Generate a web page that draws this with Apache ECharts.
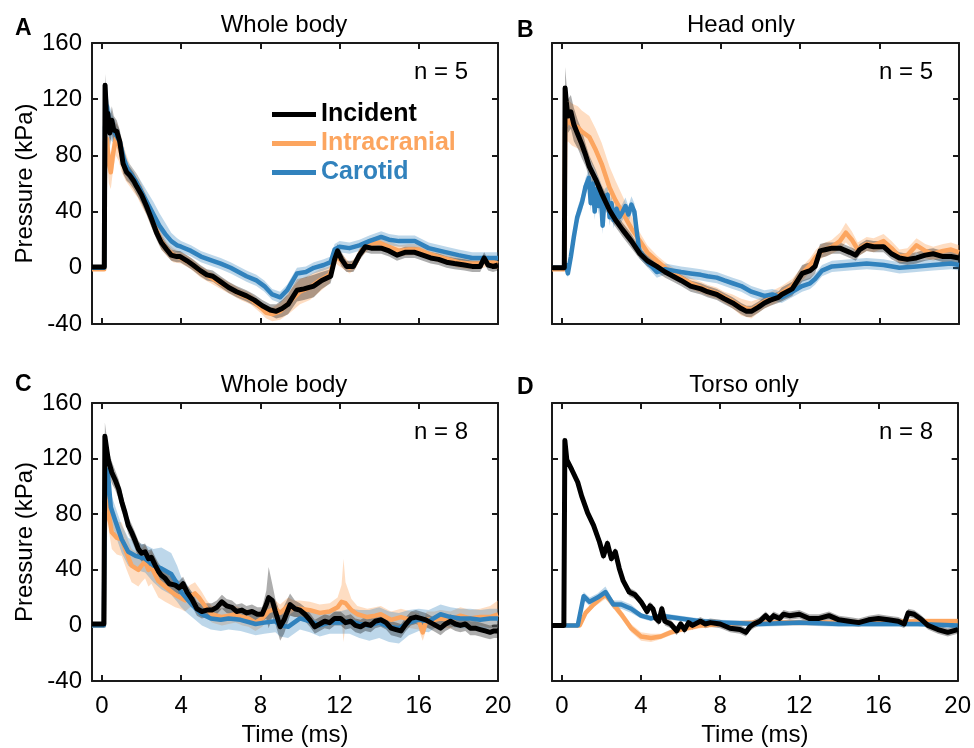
<!DOCTYPE html>
<html><head><meta charset="utf-8">
<script src="https://cdn.jsdelivr.net/npm/echarts@6/dist/echarts.min.js"></script>
<style>html,body{margin:0;padding:0;background:#fff}#c{width:974px;height:748px}</style>
</head><body><div id="c"></div><script>
// ---- DATA: each entry is [time (ms), mean pressure (kPa), SD (kPa)] ----
const xTicks = [0, 4, 8, 12, 16, 20];
const yTicks = [-40, 0, 40, 80, 120, 160];
const seriesNames = ['Incident', 'Intracranial', 'Carotid'];
const panelTitles = ['Whole body', 'Head only', 'Whole body', 'Torso only'];
const panelLetters = ['A', 'B', 'C', 'D'];
const panelN = ['n = 5', 'n = 5', 'n = 8', 'n = 8'];

const A_incident = [[-0.5,0.5,1],[0.12,0.5,1],[0.16,130,8],[0.2,118,12],[0.25,100,12],[0.3,110,12],[0.4,96,10],[0.5,105,10],[0.6,98,10],[0.75,97,8],[0.9,90,8],[1.07,74,7],[1.25,68,6],[1.4,66,6],[1.6,62,6],[1.75,58,6],[2.0,52,6],[2.25,44,6],[2.5,35,6],[2.76,25,5],[3.0,18,5],[3.27,13,4],[3.5,9,4],[3.78,8,4],[3.95,8,4],[4.3,5,4],[4.6,2,4],[4.97,-2,4],[5.3,-5,4],[5.6,-6,4],[6.0,-10,4],[6.4,-14,4],[6.8,-17,4],[7.3,-20,4],[7.7,-23,4],[8.1,-27,4],[8.5,-30,4],[8.8,-31,5],[9.1,-29,6],[9.4,-26,7],[9.85,-16,8],[10.2,-15,8],[10.7,-13,8],[11.1,-9,6],[11.55,-6,5],[11.75,6,5],[11.9,12,5],[12.1,6,5],[12.35,1,4],[12.7,1,4],[13.0,9,4],[13.3,15,4],[13.6,14,4],[14.1,14,4],[14.5,12,4],[14.9,9,4],[15.3,11,4],[15.8,11,4],[16.2,9,4],[16.6,7,4],[17.0,6,4],[17.4,4,4],[17.8,3,4],[18.3,2,4],[18.7,1,4],[19.1,1,4],[19.3,7,4],[19.5,2,4],[19.75,1,4],[20,2,4]];
const A_intracranial = [[-0.5,-1,1],[0.12,-1,1],[0.16,90,10],[0.25,92,15],[0.35,75,15],[0.45,68,12],[0.55,80,12],[0.7,92,12],[0.85,88,12],[1.0,80,12],[1.2,72,10],[1.4,66,8],[1.6,62,8],[1.8,58,8],[2.0,52,8],[2.25,45,7],[2.5,36,7],[2.75,27,6],[3.0,19,6],[3.3,13,5],[3.6,9,5],[4.0,7,4],[4.5,3,4],[5.0,-3,4],[5.5,-7,4],[6.0,-11,4],[6.5,-15,4],[7.0,-19,4],[7.5,-22,4],[8.0,-28,4],[8.3,-32,4],[8.6,-33,5],[9.0,-31,6],[9.5,-24,8],[10.0,-17,9],[10.5,-14,9],[11.0,-9,8],[11.5,-5,6],[11.8,8,5],[12.1,5,5],[12.5,0,4],[12.8,3,4],[13.1,12,4],[13.5,17,4],[14.0,18,4],[14.5,15,4],[15.0,12,4],[15.5,13,4],[16.0,13,4],[16.5,10,4],[17.0,8,4],[17.5,6,4],[18.0,4,4],[18.5,3,4],[19.0,3,4],[19.5,5,4],[20.0,3,4]];
const A_carotid = [[-0.5,0,1],[0.12,0,1],[0.16,100,12],[0.25,115,15],[0.35,105,12],[0.5,100,10],[0.7,95,8],[0.9,90,8],[1.1,78,7],[1.3,70,6],[1.5,66,6],[1.7,62,6],[2.0,54,7],[2.3,46,8],[2.6,38,9],[2.9,30,9],[3.2,24,8],[3.5,19,6],[3.8,16,5],[4.0,15,4],[4.5,12,4],[5.0,8,4],[5.6,5,4],[6.0,3,4],[6.5,0,4],[7.3,-6,4],[7.8,-9,4],[8.2,-13,4],[8.6,-19,4],[9.0,-21,4],[9.35,-16,4],[9.85,-4,4],[10.3,-3,4],[10.7,0,4],[11.2,2,4],[11.55,4,4],[11.75,13,4],[12.0,15,4],[12.5,14,4],[13.0,16,4],[13.5,19,4],[14.1,22,4],[14.5,20,4],[15.0,19,4],[15.8,19,4],[16.5,14,4],[17.4,11,4],[18.0,9,4],[18.7,7,4],[19.3,7,4],[20,7,4]];

const B_incident = [[-0.5,0,1],[0.12,0,1],[0.16,128,15],[0.22,118,15],[0.3,108,12],[0.45,111,12],[0.6,102,12],[0.8,95,10],[1.0,88,10],[1.2,80,8],[1.38,72,8],[1.7,63,7],[2.0,53,6],[2.4,41,6],[2.7,34,5],[3.06,27,5],[3.5,19,5],[3.93,10,4],[4.3,5,4],[4.78,1,4],[5.2,-3,4],[5.6,-6,4],[6.0,-9,4],[6.48,-13,4],[7.0,-15,4],[7.33,-17,4],[7.8,-19,4],[8.18,-22,4],[8.6,-25,4],[9.03,-29,4],[9.3,-31,4],[9.54,-31,4],[9.9,-28,4],[10.2,-25,4],[10.5,-23,4],[10.9,-21,4],[11.07,-19,5],[11.6,-15,5],[12.1,-4,6],[12.5,-2,6],[12.75,1,5],[13.0,12,5],[13.3,13,5],[13.6,14,4],[14.0,14,4],[14.5,11,4],[14.8,9,4],[15.0,13,4],[15.35,16,4],[15.7,15,4],[16.2,15,4],[16.6,10,4],[17.0,7,4],[17.4,6,4],[17.86,7,4],[18.3,9,4],[18.7,10,4],[19.2,8,4],[19.6,8,4],[20,7,4]];
const B_intracranial = [[-0.5,-1,1],[0.12,-1,1],[0.16,100,12],[0.3,105,15],[0.5,102,15],[0.8,100,15],[1.0,97,15],[1.38,93,15],[1.7,84,15],[2.0,74,15],[2.4,57,15],[2.7,48,14],[3.06,39,12],[3.5,28,9],[3.93,19,6],[4.3,11,5],[4.78,5,4],[5.2,0,4],[5.6,-4,4],[6.0,-7,4],[6.48,-11,4],[7.0,-14,4],[7.33,-16,4],[7.8,-18,4],[8.18,-21,4],[8.6,-24,5],[9.03,-28,6],[9.54,-30,6],[9.9,-27,5],[10.2,-24,5],[10.5,-22,5],[11.07,-18,5],[11.6,-13,5],[12.1,-4,5],[12.5,2,5],[12.8,8,5],[13.1,12,5],[13.6,15,5],[14.0,19,6],[14.3,25,7],[14.6,20,6],[14.9,13,5],[15.35,17,5],[15.7,16,5],[16.2,19,5],[16.6,14,5],[17.0,8,5],[17.4,9,5],[17.86,16,5],[18.3,12,5],[18.7,10,5],[19.2,12,5],[19.6,13,5],[20,11,5]];
const B_carotid = [[-0.5,0,1],[0.12,0,1],[0.2,2,3],[0.3,-4,3],[0.45,8,5],[0.6,22,6],[0.77,36,6],[1.02,47,6],[1.19,58,6],[1.36,64,6],[1.45,46,6],[1.55,60,6],[1.65,40,6],[1.75,56,6],[1.85,44,6],[1.95,54,6],[2.05,30,6],[2.15,50,6],[2.3,52,6],[2.4,36,6],[2.5,46,6],[2.6,34,6],[2.75,42,6],[2.9,36,6],[3.06,40,6],[3.2,44,6],[3.35,38,6],[3.5,45,6],[3.65,40,6],[3.75,28,6],[3.9,12,5],[4.2,6,4],[4.78,-3,4],[5.2,-1,4],[5.6,-2,4],[6.0,-3,4],[6.48,-4,4],[7.0,-5,4],[7.33,-6,4],[7.8,-7,4],[8.18,-9,4],[8.6,-11,4],[9.03,-13,4],[9.54,-17,4],[10.2,-20,4],[10.6,-19,4],[11.07,-21,4],[11.6,-17,4],[12.1,-13,4],[12.5,-11,4],[12.75,-8,4],[13.1,-2,4],[13.6,1,4],[14.5,2,4],[15.35,3,4],[16.2,2,4],[17.0,0,4],[17.86,1,4],[18.7,2,4],[19.6,3,4],[20,2,4]];

const C_incident = [[-0.5,1,1],[0.1,1,1],[0.15,136,10],[0.32,119,8],[0.5,110,8],[0.66,105,7],[0.85,98,7],[1.0,89,7],[1.15,82,6],[1.33,72,6],[1.5,67,6],[1.65,62,6],[1.84,55,6],[2.0,52,6],[2.18,53,6],[2.35,48,6],[2.5,49,6],[2.7,43,6],[2.85,39,6],[3.0,36,6],[3.19,34,6],[3.4,30,6],[3.7,29,5],[3.9,27,5],[4.1,30,5],[4.3,24,5],[4.54,19,5],[4.8,12,5],[5.05,10,5],[5.3,11,5],[5.55,11,5],[5.8,13,5],[6.06,17,5],[6.3,14,5],[6.57,13,5],[6.8,10,5],[7.07,11,5],[7.3,9,5],[7.58,10,5],[7.85,8,5],[8.09,8,5],[8.3,15,10],[8.42,20,22],[8.6,18,12],[8.76,10,9],[9.0,-1,10],[9.2,4,10],[9.5,15,8],[9.75,12,6],[10.0,11,5],[10.25,8,5],[10.5,4,5],[10.75,-1,5],[11.0,1,5],[11.25,3,5],[11.5,2,5],[11.75,5,5],[12.05,5,5],[12.3,2,5],[12.56,3,5],[12.8,0,5],[13.06,-1,5],[13.3,1,5],[13.57,0,5],[13.8,3,5],[14.08,4,5],[14.35,2,5],[14.6,-2,5],[14.85,-3,5],[15.1,-4,5],[15.35,1,5],[15.6,5,5],[15.85,6,5],[16.1,5,5],[16.35,4,5],[16.6,2,5],[16.85,0,5],[17.1,-2,5],[17.35,1,5],[17.6,3,5],[17.85,1,5],[18.1,0,5],[18.35,1,5],[18.6,-2,5],[18.85,-2,5],[19.1,-3,5],[19.35,-4,5],[19.6,-5,5],[19.8,-4,5],[20,-4,5]];
const C_intracranial = [[-0.5,0,1],[0.1,0,1],[0.15,70,10],[0.24,98,10],[0.35,80,12],[0.5,67,12],[0.75,63,12],[1.0,62,12],[1.25,52,12],[1.5,43,12],[1.84,40,12],[2.0,43,12],[2.18,46,12],[2.35,40,12],[2.5,42,12],[2.85,32,12],[3.19,28,11],[3.45,25,10],[3.7,22,9],[3.95,20,8],[4.2,18,8],[4.45,21,8],[4.7,23,8],[4.9,20,7],[5.05,17,7],[5.3,12,6],[5.55,8,6],[5.8,7,6],[6.06,6,6],[6.4,7,6],[6.74,8,6],[7.1,6,6],[7.4,5,6],[7.75,2,6],[8.09,5,6],[8.4,10,6],[8.76,12,6],[9.0,9,6],[9.4,14,6],[9.7,12,6],[10.0,12,6],[10.5,11,6],[11.0,9,6],[11.5,10,6],[11.9,13,7],[12.1,17,12],[12.2,18,30],[12.3,16,15],[12.6,11,8],[12.9,8,6],[13.4,6,6],[13.8,7,6],[14.08,8,6],[14.6,4,6],[15.1,6,6],[15.6,4,6],[16.0,3,6],[16.2,-5,6],[16.4,4,6],[16.8,4,6],[17.1,5,6],[17.6,4,6],[18.1,7,6],[18.6,5,6],[19.1,6,6],[19.6,6,8],[20,8,10]];
const C_carotid = [[-0.5,0,1],[0.1,0,1],[0.15,90,10],[0.25,112,10],[0.32,107,10],[0.45,85,10],[0.66,76,10],[1.0,62,10],[1.33,53,10],[1.7,50,10],[2.18,48,10],[2.6,43,12],[3.0,41,15],[3.5,37,15],[3.8,30,13],[4.0,24,11],[4.3,19,10],[4.54,15,9],[5.05,8,8],[5.5,5,8],[6.0,4,8],[6.4,5,8],[7.0,4,8],[7.76,1,8],[8.2,2,8],[8.76,3,8],[9.0,0,8],[9.4,-1,8],[10.0,5,8],[10.5,3,8],[11.0,0,8],[11.5,2,8],[12.0,2,8],[12.5,3,9],[13.0,1,10],[13.5,0,11],[14.0,2,11],[14.5,-1,11],[15.0,-2,11],[15.5,2,9],[16.0,4,8],[16.5,3,8],[17.1,8,7],[17.6,6,7],[18.1,5,7],[18.6,5,7],[19.1,4,7],[19.6,5,7],[20,5,7]];

const D_incident = [[-0.5,0,1],[0.1,0,1],[0.15,133,3],[0.25,119,3],[0.5,112,3],[0.8,103,3],[1.0,93,3],[1.3,81,3],[1.6,72,3],[1.9,60,3],[2.1,50,3],[2.3,59,3],[2.5,48,3],[2.7,53,3],[2.9,41,3],[3.1,32,3],[3.4,24,3],[3.7,22,3],[4.0,17,3],[4.3,10,3],[4.45,14,3],[4.6,12,3],[4.75,5,3],[4.9,3,3],[5.05,12,3],[5.2,3,3],[5.5,1,3],[5.8,-4,3],[6.0,1,3],[6.2,-3,3],[6.4,2,3],[6.6,0,3],[7.0,3,3],[7.25,1,3],[7.5,2,3],[8.0,1,3],[8.5,-2,3],[9.0,-3,3],[9.3,-5,3],[9.5,-1,3],[9.7,1,3],[10.0,3,3],[10.3,7,3],[10.5,4,3],[10.7,7,3],[11.0,5,3],[11.2,8,3],[11.5,7,3],[12.0,8,3],[12.5,5,3],[13.0,5,3],[13.5,7,3],[14.0,4,3],[14.5,3,3],[15.0,2,3],[15.5,4,3],[16.0,5,3],[16.5,4,3],[17.0,3,3],[17.3,1,3],[17.5,9,3],[17.8,8,3],[18.1,5,3],[18.5,0,3],[19.0,-3,3],[19.5,-5,3],[20,-3,3]];
const D_intracranial = [[-0.5,0,1],[0.9,0,1],[1.2,9,2],[1.6,15,2],[2.0,20,3],[2.2,22,3],[2.5,17,3],[3.0,8,3],[3.5,-2,3],[4.0,-8,3],[4.5,-9,3],[5.0,-8,2],[5.5,-5,2],[6.0,-3,2],[7.0,0,2],[8.0,1,2],[10.0,2,2],[12.0,2,2],[14.0,2,2],[16.0,2,2],[18.0,3,2],[20,3,2]];
const D_carotid = [[-0.5,0,1],[0.8,0,1],[1.1,21,3],[1.4,17,3],[1.8,20,3],[2.2,24,4],[2.6,15,3],[3.0,15,3],[3.5,12,3],[4.0,7,2],[4.5,5,2],[5.0,7,2],[6.0,5,2],[7.0,3,2],[8.0,2,2],[10.0,1,2],[12.0,2,2],[14.0,1,2],[16.0,1,2],[18.0,1,2],[20,0,2]];

const panels = [
  [A_incident, A_intracranial, A_carotid],
  [B_incident, B_intracranial, B_carotid],
  [C_incident, C_intracranial, C_carotid],
  [D_incident, D_intracranial, D_carotid]
];

// ---- STYLE ----
const FONT = '"Liberation Sans", Arial, Helvetica, sans-serif';
const LINE_COL = ['#000000', '#FCA55F', '#3182BD'];
const BAND_COL = ['rgba(0,0,0,0.32)', 'rgba(252,165,95,0.38)', 'rgba(49,130,189,0.32)'];
const AX = '#1a1a1a';
const gridPos = [
  {left: 92, top: 43, width: 406, height: 281},
  {left: 552, top: 43, width: 407, height: 281},
  {left: 92, top: 403, width: 406, height: 281},
  {left: 552, top: 403, width: 407, height: 281}
];

const chart = echarts.init(document.getElementById('c'), null, {renderer: 'canvas'});
const grid = [], xAxis = [], yAxis = [], series = [];

gridPos.forEach((g, i) => {
  grid.push(Object.assign({containLabel: false, show: false}, g));
  const axLine = {show: true, onZero: false, lineStyle: {color: AX, width: 2}};
  const tick = {show: true, inside: true, length: 6, lineStyle: {color: AX, width: 2}};
  const lbl = {fontSize: 24, color: '#000', fontFamily: FONT};
  const showX = i >= 2, showY = i % 2 === 0;
  xAxis.push({type: 'value', gridIndex: i, min: -0.5, max: 20, position: 'bottom',
    axisLine: axLine, axisTick: Object.assign({customValues: xTicks}, tick),
    axisLabel: Object.assign({show: showX, margin: 13, customValues: xTicks}, lbl),
    splitLine: {show: false},
    name: showX ? 'Time (ms)' : '', nameLocation: 'middle', nameGap: 42,
    nameTextStyle: lbl});
  xAxis.push({type: 'value', gridIndex: i, min: -0.5, max: 20, position: 'top',
    axisLine: axLine, axisTick: Object.assign({customValues: xTicks}, tick),
    axisLabel: {show: false}, splitLine: {show: false}});
  yAxis.push({type: 'value', gridIndex: i, min: -40, max: 160, interval: 40, position: 'left',
    axisLine: axLine, axisTick: tick,
    axisLabel: Object.assign({show: showY, margin: 10}, lbl),
    splitLine: {show: false},
    name: showY ? 'Pressure (kPa)' : '', nameLocation: 'middle', nameGap: 55,
    nameTextStyle: lbl});
  yAxis.push({type: 'value', gridIndex: i, min: -40, max: 160, interval: 40, position: 'right',
    axisLine: axLine, axisTick: tick, axisLabel: {show: false}, splitLine: {show: false}});
});

function bandSeries(arr, color, gi) {
  return {
    type: 'custom', xAxisIndex: 2 * gi, yAxisIndex: 2 * gi, clip: true, silent: true, z: 1,
    data: arr.map(d => [d[0], d[1] - d[2], d[1] + d[2]]),
    encode: {x: 0, y: [1, 2]},
    renderItem: function (params, api) {
      if (params.dataIndex !== 0) return null;
      const up = arr.map(d => api.coord([d[0], d[1] + d[2]]));
      const lo = arr.map(d => api.coord([d[0], d[1] - d[2]])).reverse();
      return {type: 'polygon', shape: {points: up.concat(lo)}, style: {fill: color}};
    }
  };
}

panels.forEach((p, gi) => {
  [1, 2, 0].forEach(k => series.push(bandSeries(p[k], BAND_COL[k], gi)));
  [1, 2, 0].forEach(k => series.push({
    type: 'line', name: seriesNames[k], xAxisIndex: 2 * gi, yAxisIndex: 2 * gi,
    data: p[k].map(d => [d[0], d[1]]), showSymbol: false, symbol: 'none',
    color: LINE_COL[k], itemStyle: {color: LINE_COL[k]},
    lineStyle: {color: LINE_COL[k], width: k === 0 ? 5 : 4.5, join: 'round'},
    z: 3, silent: true
  }));
});

const graphic = [];
const titlePos = [[284, 25], [741, 25], [284, 385], [744, 385]];
const letterPos = [[15, 29], [517, 31], [15, 385], [517, 388]];
const nPos = [[468, 72], [933, 72], [468, 432], [933, 432]];
for (let i = 0; i < 4; i++) {
  graphic.push({type: 'text', x: titlePos[i][0], y: titlePos[i][1], silent: true,
    style: {text: panelTitles[i], font: '24px ' + FONT, fill: '#000', textAlign: 'center', textVerticalAlign: 'middle'}});
  graphic.push({type: 'text', x: letterPos[i][0], y: letterPos[i][1], silent: true,
    style: {text: panelLetters[i], font: 'bold 23px ' + FONT, fill: '#000', textAlign: 'left', textVerticalAlign: 'middle'}});
  graphic.push({type: 'text', x: nPos[i][0], y: nPos[i][1], silent: true, z: 10,
    style: {text: panelN[i], font: '24px ' + FONT, fill: '#000', textAlign: 'right', textVerticalAlign: 'middle'}});
}

chart.setOption({
  animation: false,
  textStyle: {fontFamily: FONT},
  grid, xAxis, yAxis, series, graphic,
  legend: {
    show: true, selectedMode: false, orient: 'vertical', left: 267, top: 97,
    icon: 'rect', itemWidth: 44, itemHeight: 5, itemGap: 4,
    textStyle: {fontSize: 25, fontWeight: 'bold', fontFamily: FONT, lineHeight: 24},
    data: seriesNames.map((n, k) => ({name: n, textStyle: {color: LINE_COL[k]}}))
  }
});
</script></body></html>
